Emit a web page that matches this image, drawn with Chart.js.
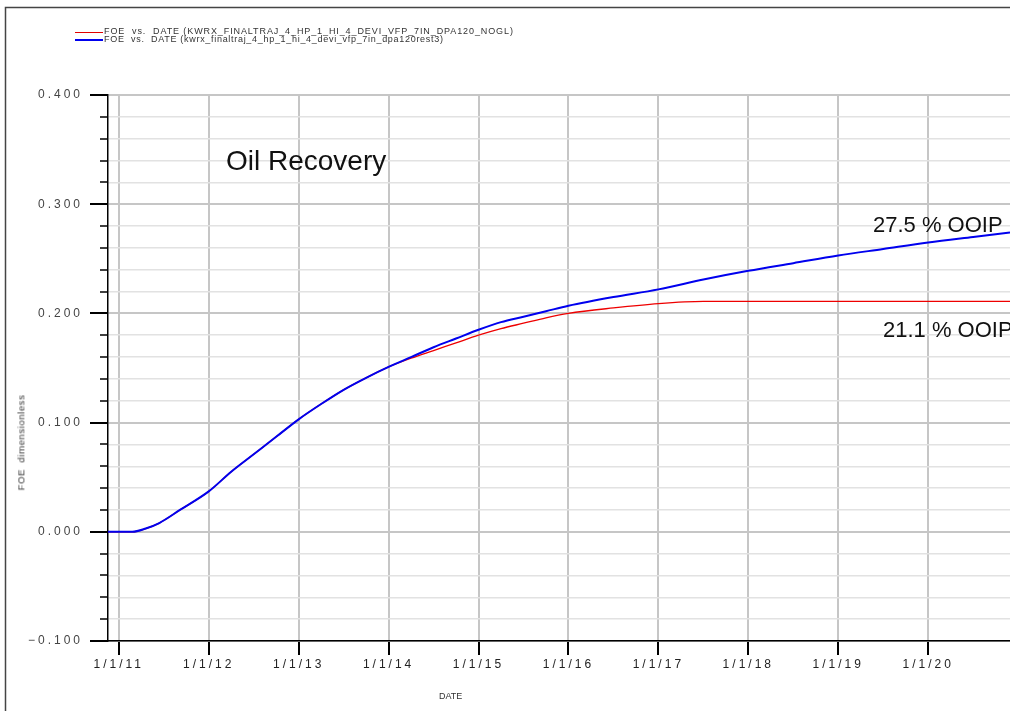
<!DOCTYPE html>
<html>
<head>
<meta charset="utf-8">
<script src="https://cdn.jsdelivr.net/npm/chart.js"></script>
<style>
  body { margin: 0; background: #fff; }
  .wrap { position: relative; width: 1010px; height: 711px; overflow: hidden; font-family: "Liberation Sans", Arial, sans-serif; }
  .note { position: absolute; white-space: nowrap; color: #111; }
  .key { position: absolute; left: 75px; width: 28px; }
  .keytext { position: absolute; left: 104px; font-size: 9px; color: #333; letter-spacing: 0.9px; white-space: nowrap; }
</style>
</head>
<body>
<div class="wrap">
  <canvas id="myChart" width="1010" height="711"></canvas>

  <div class="key" style="top:32px; height:1px; background:#e00000;"></div>
  <div class="keytext" style="top:26px;">FOE&nbsp; vs.&nbsp; DATE (KWRX_FINALTRAJ_4_HP_1_HI_4_DEVI_VFP_7IN_DPA120_NOGL)</div>
  <div class="key" style="top:39px; height:2px; background:#0000ee;"></div>
  <div class="keytext" style="top:34px; letter-spacing:0.7px;">FOE&nbsp; vs.&nbsp; DATE (kwrx_finaltraj_4_hp_1_hi_4_devi_vfp_7in_dpa120rest3)</div>

  <div class="note" style="left:226px; top:145px; font-size:28px;">Oil Recovery</div>
  <div class="note" style="left:873px; top:212px; font-size:22px;">27.5 % OOIP</div>
  <div class="note" style="left:883px; top:317px; font-size:22px;">21.1 % OOIP</div>

  <div class="note" style="left:-27px; top:437px; font-size:9.5px; color:#333; letter-spacing:0.6px; transform:rotate(-90deg);">FOE&nbsp; dimensionless</div>
  <div class="note" style="left:439px; top:691px; font-size:9px; color:#333;">DATE</div>
</div>

<script>
// decimal years
const years = [2010.88, 2011.15, 2011.3, 2011.45, 2011.68, 2012.0, 2012.25, 2012.5, 2012.75, 2013.0,
  2013.25, 2013.5, 2013.75, 2014.0, 2014.25, 2014.5, 2014.75, 2015.0, 2015.25, 2015.5, 2015.75,
  2016.0, 2016.5, 2017.0, 2017.5, 2018.0, 2018.5, 2019.0, 2019.5, 2020.0, 2020.5, 2020.91];

// FOE, NOGL case (red)
const foeNogl = [0, 0, 0.003, 0.008, 0.020, 0.037, 0.055, 0.071, 0.087, 0.103,
  0.117, 0.130, 0.141, 0.151, 0.159, 0.166, 0.173, 0.180, 0.186, 0.191, 0.196,
  0.200, 0.205, 0.209, 0.211, 0.211, 0.211, 0.211, 0.211, 0.211, 0.211, 0.211];

// FOE, rest3 case (blue)
const foeRest3 = [0, 0, 0.003, 0.008, 0.020, 0.037, 0.055, 0.071, 0.087, 0.103,
  0.117, 0.130, 0.141, 0.151, 0.160, 0.169, 0.177, 0.185, 0.192, 0.197, 0.202,
  0.207, 0.215, 0.222, 0.231, 0.239, 0.246, 0.253, 0.259, 0.265, 0.270, 0.274];

const tickYears = [2011, 2012, 2013, 2014, 2015, 2016, 2017, 2018, 2019, 2020];
const dateLabels = ['1/1/11', '1/1/12', '1/1/13', '1/1/14', '1/1/15', '1/1/16', '1/1/17', '1/1/18', '1/1/19', '1/1/20'];

const yMin = -0.1, yMax = 0.4, yStep = 0.02;

function isMajor(v) {
  return Math.abs(v * 10 - Math.round(v * 10)) < 1e-6;
}

// left ticks (long ones every 0.1), outer frame and wide tick lettering
const axisMarks = {
  id: 'axisMarks',
  beforeDraw(chart) {
    chart.ctx.letterSpacing = '3px';
  },
  afterDraw(chart) {
    const ctx = chart.ctx;
    const ys = chart.scales.y;
    ctx.save();
    ctx.letterSpacing = '0px';
    ctx.strokeStyle = '#000';
    let n = Math.round((yMax - yMin) / yStep);
    for (let i = 0; i <= n; i++) {
      let v = yMin + i * yStep;
      let y = Math.round(ys.getPixelForValue(v));
      let major = i % 5 === 0;
      ctx.lineWidth = major ? 2 : 1.5;
      ctx.beginPath();
      ctx.moveTo(ys.right - (major ? 18 : 8), y);
      ctx.lineTo(ys.right, y);
      ctx.stroke();
    }
    ctx.strokeStyle = '#444';
    ctx.lineWidth = 1.5;
    ctx.beginPath();
    ctx.moveTo(5.5, 711);
    ctx.lineTo(5.5, 7.5);
    ctx.lineTo(1010, 7.5);
    ctx.stroke();
    ctx.restore();
  }
};

new Chart('myChart', {
  type: 'line',
  data: {
    datasets: [{
      label: 'NOGL',
      data: years.map((x, i) => ({ x: x, y: foeNogl[i] })),
      borderColor: '#ee0000',
      borderWidth: 1.3,
      order: 1
    }, {
      label: 'rest3',
      data: years.map((x, i) => ({ x: x, y: foeRest3[i] })),
      borderColor: '#0000ee',
      borderWidth: 2,
      order: 0
    }]
  },
  options: {
    responsive: false,
    devicePixelRatio: 1,
    animation: false,
    layout: { padding: { top: 95, left: 0, right: 0, bottom: 0 } },
    elements: {
      point: { radius: 0 },
      line: { cubicInterpolationMode: 'monotone', fill: false }
    },
    plugins: {
      legend: { display: false },
      tooltip: { enabled: false }
    },
    scales: {
      x: {
        type: 'linear',
        min: 2010.88,
        max: 2020.91,
        afterBuildTicks: s => { s.ticks = tickYears.map(v => ({ value: v })); },
        afterFit: s => { s.height = 70; },
        grid: {
          color: '#c6c6c6',
          lineWidth: 2,
          tickColor: '#000',
          tickLength: 14,
          tickWidth: 2
        },
        border: { display: true, color: '#000', width: 1.5 },
        ticks: {
          autoSkip: false,
          maxRotation: 0,
          padding: 2,
          color: '#222',
          font: { family: 'Liberation Sans', size: 12 },
          callback: (v, i) => dateLabels[i]
        }
      },
      y: {
        min: yMin,
        max: yMax,
        afterFit: s => { s.width = 108; },
        grid: {
          drawTicks: false,
          color: c => isMajor(c.tick.value) ? '#c6c6c6' : '#e2e2e2',
          lineWidth: c => isMajor(c.tick.value) ? 2 : 1.5
        },
        border: { display: true, color: '#000', width: 1.5 },
        ticks: {
          stepSize: yStep,
          autoSkip: false,
          padding: 25,
          color: '#444',
          font: { family: 'Liberation Sans', size: 12 },
          callback: v => isMajor(v) ? v.toFixed(3).replace('-', '\u2212') : ''
        }
      }
    }
  },
  plugins: [axisMarks]
});
</script>
</body>
</html>
